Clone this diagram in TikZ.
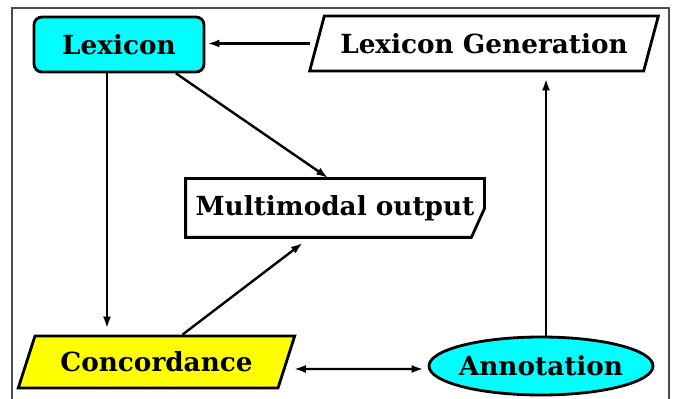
\documentclass[tikz,border=0pt]{standalone}
\usepackage{fontspec}
\setmainfont{DejaVu Serif}
\usetikzlibrary{shapes.geometric,arrows.meta,backgrounds}
\definecolor{boxcyan}{RGB}{0,255,255}
\definecolor{boxyellow}{RGB}{255,255,0}
\tikzset{
  box/.style={draw=black, line width=2.8pt, font=\fontsize{26.3}{31}\selectfont\bfseries, text=black, inner sep=0pt},
  conn/.style={draw=black, line width=2.4pt, -{Latex[length=12pt,width=8pt]}},
  connboth/.style={draw=black, line width=2.4pt, {Latex[length=12pt,width=8pt]}-{Latex[length=12pt,width=8pt]}},
  para/.style={box, trapezium, trapezium left angle=57, trapezium right angle=123, trapezium stretches=true}
}
\begin{document}
\begin{tikzpicture}[x=1pt,y=1pt]
  \useasboundingbox (0,0) rectangle (673,399);
  % outer frame
  \draw[gray!60!black, line width=1.5pt] (12,-5) -- (12,391) -- (669,391) -- (669,-5);

  % nodes
  \node[box, fill=boxcyan, rounded corners=8pt, minimum width=170pt, minimum height=55pt] (lex) at (119,354.5) {Lexicon};
  \node[para, fill=white, minimum width=350pt, minimum height=55pt] (gen) at (484,355.5) {Lexicon Generation};
  \node[box, draw=none, minimum width=296pt, minimum height=56pt] (multi) at (335,191) {Multimodal output};
  \node[para, fill=boxyellow, minimum width=277pt, minimum height=52pt] (conc) at (156.5,37) {Concordance};
  \node[box, ellipse, fill=boxcyan, inner xsep=-4pt, inner ysep=0pt, minimum width=224pt, minimum height=58pt] (ann) at (541,33) {Annotation};

  % outline of the output box with its cut lower-right corner
  \begin{scope}[on background layer]
    \draw[line width=2.8pt, fill=white, line join=miter]
      (multi.north west) -- (multi.north east) -- ([yshift=-30pt]multi.north east)
      -- ([xshift=-13pt]multi.south east) -- (multi.south west) -- cycle;
  \end{scope}

  % connectors
  \draw[conn, shorten <=6pt, shorten >=2pt] (gen.west) -- (lex.east |- gen.west);
  \draw[conn, shorten >=6pt] ([xshift=-12pt]lex.south) -- ([xshift=-12pt]lex.south |- conc.north);
  \draw[conn, shorten >=1pt] ([xshift=57pt]lex.south) -- ([xshift=-6pt]multi.north);
  \draw[conn, shorten >=9pt] ([xshift=26pt]conc.north) -- ([xshift=-25pt]multi.south);
  \draw[connboth, shorten <=6pt, shorten >=4pt] ([yshift=-7pt]conc.east) -- ([yshift=-3pt]ann.west);
  \draw[conn, shorten >=6pt] ([xshift=5pt]ann.north) -- ([xshift=5pt]ann.north |- gen.south);
\end{tikzpicture}
\end{document}
